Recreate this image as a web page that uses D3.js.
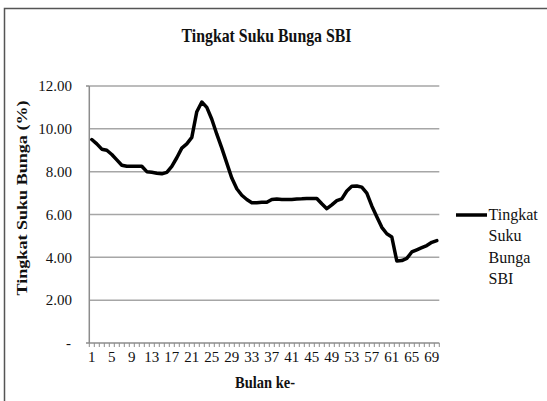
<!DOCTYPE html>
<html><head><meta charset="utf-8">
<script src="https://cdn.jsdelivr.net/npm/d3@7"></script>
<style>
html,body{margin:0;padding:0;background:#fff;}
svg{display:block;}
</style></head>
<body>
<script>
const months = d3.range(1, 71);
const rates = [
 9.50, 9.30, 9.05, 9.00, 8.80, 8.55, 8.30, 8.25, 8.25, 8.25,
 8.25, 8.00, 7.97, 7.93, 7.90, 7.97, 8.25, 8.65, 9.10, 9.30,
 9.60, 10.80, 11.25, 11.00, 10.45, 9.75, 9.10, 8.40, 7.70, 7.20,
 6.90, 6.70, 6.55, 6.55, 6.57, 6.57, 6.70, 6.72, 6.70, 6.70,
 6.70, 6.72, 6.73, 6.75, 6.75, 6.75, 6.50, 6.27, 6.45, 6.65,
 6.73, 7.10, 7.32, 7.33, 7.28, 7.00, 6.40, 5.90, 5.40, 5.10,
 4.95, 3.83, 3.85, 3.95, 4.25, 4.35, 4.45, 4.55, 4.70, 4.78
];
const yTicks = [0, 2, 4, 6, 8, 10, 12];
const xTickLabels = d3.range(1, 71, 4);
const title = "Tingkat Suku Bunga SBI";
const yTitle = "Tingkat Suku Bunga (%)";
const xTitle = "Bulan ke-";
const legendLines = ["Tingkat", "Suku", "Bunga", "SBI"];

const FONT = "'Liberation Serif', 'Times New Roman', Tinos, 'DejaVu Serif', serif";
const W = 547, H = 401;
const svg = d3.select("body").append("svg").attr("width", W).attr("height", H)
  .attr("font-family", FONT);

// outer border
svg.append("rect").attr("x", 4.5).attr("y", 8.5).attr("width", 600).attr("height", 500)
  .attr("fill", "none").attr("stroke", "#555").attr("stroke-width", 1.5);

const x = d3.scaleBand().domain(months).range([89.3, 439.3]).padding(0);
const y = d3.scaleLinear().domain([0, 12]).range([343, 86]);

// gridlines
svg.append("g").selectAll("line").data(yTicks.filter(d => d > 0)).join("line")
  .attr("x1", 89.3).attr("x2", 439.3)
  .attr("y1", d => y(d)).attr("y2", d => y(d))
  .attr("stroke", "#a6a6a6").attr("stroke-width", 1.5);

// y tick labels
svg.append("g").selectAll("text").data(yTicks).join("text")
  .attr("font-family", FONT).attr("fill", "#111")
  .attr("x", d => d === 0 ? 71 : 72).attr("y", d => y(d)).attr("dy", "0.35em")
  .attr("text-anchor", "end").attr("font-size", 15)
  .text(d => d === 0 ? "-" : d3.format(".2f")(d));

// axes lines
svg.append("line").attr("x1", 89.3).attr("x2", 89.3).attr("y1", y(12)).attr("y2", y(0))
  .attr("stroke", "#8c8c8c").attr("stroke-width", 1.5);
svg.append("line").attr("x1", 86).attr("x2", 439.3).attr("y1", y(0)).attr("y2", y(0))
  .attr("stroke", "#8c8c8c").attr("stroke-width", 1.5);
svg.append("line").attr("x1", 86).attr("x2", 89.3).attr("y1", y(12)).attr("y2", y(12))
  .attr("stroke", "#8c8c8c").attr("stroke-width", 1.5);

// x tick marks at category boundaries
const bounds = months.map(m => x(m)).concat([x(months[months.length - 1]) + x.bandwidth()]);
svg.append("g").selectAll("line").data(bounds).join("line")
  .attr("x1", d => d).attr("x2", d => d)
  .attr("y1", y(0)).attr("y2", y(0) + 4)
  .attr("stroke", "#8c8c8c").attr("stroke-width", 1);

// x tick labels
svg.append("g").selectAll("text").data(xTickLabels).join("text")
  .attr("font-family", FONT).attr("fill", "#111")
  .attr("x", d => x(d) + x.bandwidth() / 2).attr("y", 362)
  .attr("text-anchor", "middle").attr("font-size", 15)
  .text(d => d);

// line
const line = d3.line()
  .x((d, i) => x(months[i]) + x.bandwidth() / 2)
  .y(d => y(d));
svg.append("path").datum(rates).attr("d", line)
  .attr("fill", "none").attr("stroke", "#000").attr("stroke-width", 3.5)
  .attr("stroke-linejoin", "round").attr("stroke-linecap", "round");

// title
svg.append("text").attr("x", 266.5).attr("y", 42).attr("text-anchor", "middle")
  .attr("font-family", FONT).attr("fill", "#111")
  .attr("font-size", 19).attr("font-weight", "bold")
  .attr("textLength", 170).attr("lengthAdjust", "spacingAndGlyphs")
  .text(title);

// y axis title
svg.append("text").attr("transform", "translate(27,198) rotate(-90)")
  .attr("font-family", FONT).attr("fill", "#111")
  .attr("text-anchor", "middle").attr("font-size", 15).attr("font-weight", "bold")
  .attr("textLength", 195).attr("lengthAdjust", "spacingAndGlyphs")
  .text(yTitle);

// x axis title
svg.append("text").attr("x", 265).attr("y", 388).attr("text-anchor", "middle")
  .attr("font-family", FONT).attr("fill", "#111")
  .attr("font-size", 16).attr("font-weight", "bold")
  .attr("textLength", 60).attr("lengthAdjust", "spacingAndGlyphs")
  .text(xTitle);

// legend
svg.append("line").attr("x1", 456).attr("x2", 487).attr("y1", 215).attr("y2", 215)
  .attr("stroke", "#000").attr("stroke-width", 3.5);
svg.append("g").selectAll("text").data(legendLines).join("text")
  .attr("font-family", FONT).attr("fill", "#111")
  .attr("x", 488.5).attr("y", (d, i) => 220 + i * 21.3)
  .attr("font-size", 16)
  .text(d => d);
</script>
</body></html>
